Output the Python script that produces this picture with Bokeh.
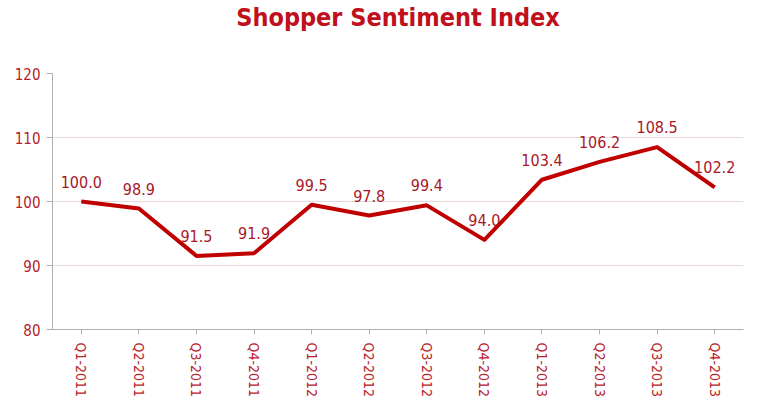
import math
from bokeh.plotting import figure
from bokeh.models import ColumnDataSource, FixedTicker, Range1d, Title
from bokeh.core.properties import value
from bokeh.embed import file_html
from bokeh.resources import INLINE

quarters = ["Q1-2011", "Q2-2011", "Q3-2011", "Q4-2011",
            "Q1-2012", "Q2-2012", "Q3-2012", "Q4-2012",
            "Q1-2013", "Q2-2013", "Q3-2013", "Q4-2013"]
index_values = [100.0, 98.9, 91.5, 91.9, 99.5, 97.8, 99.4, 94.0, 103.4, 106.2, 108.5, 102.2]
y_ticks = [80, 90, 100, 110, 120]
title_text = "Shopper Sentiment Index"

FONT = "DejaVu Sans Condensed"
RED = "#c00000"
TXT = "#b8202a"

src = ColumnDataSource(dict(
    q=quarters,
    v=index_values,
    lab=[f"{v:.1f}" for v in index_values],
))

p = figure(width=770, height=400, x_range=quarters, y_range=Range1d(80, 120),
           output_backend="svg", toolbar_location=None,
           min_border_left=52, min_border_right=27, min_border_bottom=70, min_border_top=0)

# spacer panel between the title and the plot frame
p.add_layout(Title(text=" ", text_font_size="28px", standoff=9, offset=0), "above")
p.add_layout(Title(text=title_text, text_font=FONT, text_font_size="25px",
                   text_font_style="bold", text_color="#c0101c", align="center",
                   standoff=0, offset=0), "above")

p.outline_line_color = None
p.xgrid.grid_line_color = None
p.ygrid.grid_line_color = "#ead8d8"
p.ygrid.grid_line_width = 1
p.yaxis.ticker = FixedTicker(ticks=y_ticks)

for ax in (p.xaxis[0], p.yaxis[0]):
    ax.axis_line_color = "#b0b0b0"
    ax.major_tick_line_color = "#b0b0b0"
    ax.minor_tick_line_color = None
    ax.major_label_text_font = FONT
    ax.major_label_text_color = TXT

p.yaxis.major_tick_in = 0
p.yaxis.major_tick_out = 6
p.yaxis.major_label_text_font_size = "15px"
p.yaxis.major_label_standoff = 6

p.xaxis.major_tick_in = 0
p.xaxis.major_tick_out = 5
p.xaxis.major_label_text_font_size = "14px"
p.xaxis.major_label_orientation = -math.pi / 2
p.xaxis.major_label_standoff = 8

p.line(x="q", y="v", source=src, line_color=RED, line_width=4, line_join="round")
p.text(x="q", y="v", text="lab", source=src, text_font=value(FONT), text_font_size="16px",
       text_color="#a81826", text_align="center", text_baseline="bottom", y_offset=-14)

open("out.html", "w").write(file_html(p, INLINE))
